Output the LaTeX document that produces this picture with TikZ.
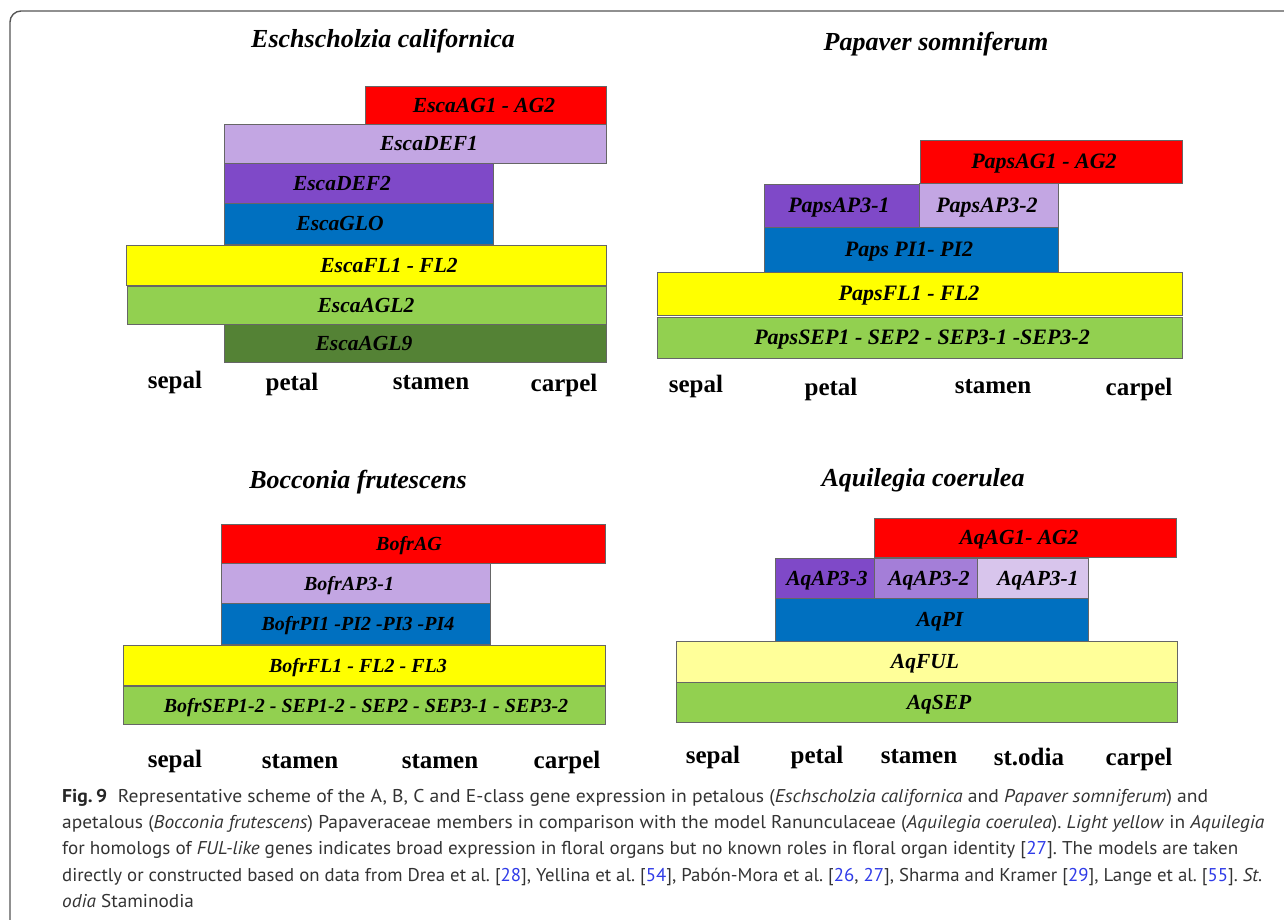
\documentclass[tikz,border=0pt]{standalone}
\usepackage{fontspec}
\usepackage{graphicx}
\setmainfont{Liberation Serif}
\newfontfamily\capfont{PT Sans}
\definecolor{gred}{HTML}{FF0000}
\definecolor{glav}{HTML}{C3A6E3}
\definecolor{gpur}{HTML}{7F49C8}
\definecolor{gmedpur}{HTML}{A47ED8}
\definecolor{glightpur}{HTML}{D8C5EC}
\definecolor{gblue}{HTML}{0070C0}
\definecolor{gyel}{HTML}{FFFF00}
\definecolor{glyel}{HTML}{FFFF99}
\definecolor{ggreen}{HTML}{92D050}
\definecolor{gdkgreen}{HTML}{548235}
\definecolor{capgray}{HTML}{333333}
\definecolor{citeblue}{HTML}{2F3BE8}
\definecolor{framegray}{HTML}{555555}
\def\labsize{21}
\newcommand\genebox[8]{%
  \node[gbox, fill=#6, minimum width={(#4)-(#2)}, minimum height={(#5)-(#3)}] (#1) at ({((#2)+(#4))/2},{((#3)+(#5))/2}) {};
  \node[glabel] (#1t) at (#7,{((#3)+(#5))/2+7}) {#8};}
\newcommand\cit[1]{\textcolor{citeblue}{#1}}
\newcommand\capfit[2]{\resizebox{#1pt}{\height}{#2}}
\frenchspacing
\begin{document}
\begin{tikzpicture}[x=1pt,y=-1pt,
  gbox/.style={draw=black!60, line width=0.8pt, inner sep=0pt, outer sep=0pt},
  glabel/.style={font=\fontsize{\labsize}{22}\selectfont\bfseries\itshape, anchor=base, inner sep=0pt},
  organ/.style={font=\fontsize{25}{28}\selectfont\bfseries, anchor=base, inner sep=0pt},
  ptitle/.style={font=\fontsize{26}{30}\selectfont\bfseries\itshape, anchor=base, inner sep=0pt},
  capline/.style={font=\capfont\fontsize{18.5}{22}\selectfont, anchor=base west, inner sep=0pt, text=capgray}]
\useasboundingbox (0,0) rectangle (1284,919);
% frame
\draw[framegray, line width=1.4pt, rounded corners=11pt] (10,940) -- (10,11) -- (1300,11);
% ---------- Panel 1: Eschscholzia ----------
\def\labsize{21.5}
\node[ptitle] (t1) at (383,47) {Eschscholzia californica};
\genebox{eAG}{365}{86}{606}{124}{gred}{484}{EscaAG1 - AG2}
\genebox{eDEF1}{224}{124}{606}{163}{glav}{429}{EscaDEF1}
\genebox{eDEF2}{224}{163}{493}{203}{gpur}{342}{EscaDEF2}
\genebox{eGLO}{224}{203}{493}{244}{gblue}{340}{EscaGLO}
\genebox{eFL}{126}{245}{606}{285}{gyel}{389}{EscaFL1 - FL2}
\genebox{eAGL2}{127}{286}{606}{324}{ggreen}{366}{EscaAGL2}
\genebox{eAGL9}{224}{324}{606}{362}{gdkgreen}{364}{EscaAGL9}
\node[organ] (o11) at (175,388) {sepal};
\node[organ] (o12) at (292,390) {petal};
\node[organ] (o13) at (431,389) {stamen};
\node[organ] (o14) at (564,391) {carpel};
% ---------- Panel 2: Papaver ----------
\def\labsize{22}
\node[ptitle] (t2) at (936,50) {Papaver somniferum};
\genebox{pAG}{920}{140}{1182}{183}{gred}{1044}{PapsAG1 - AG2}
\genebox{pAP31}{764}{184}{919}{227}{gpur}{839}{PapsAP3-1}
\genebox{pAP32}{919}{183}{1058}{227}{glav}{987}{PapsAP3-2}
\genebox{pPI}{764}{227}{1058}{272}{gblue}{909}{Paps PI1- PI2}
\genebox{pFL}{657}{272}{1182}{315}{gyel}{909}{PapsFL1 - FL2}
\genebox{pSEP}{657}{317}{1182}{358}{ggreen}{922}{PapsSEP1 - SEP2 - SEP3-1 -SEP3-2}
\node[organ] (o21) at (696,392) {sepal};
\node[organ] (o22) at (831,395) {petal};
\node[organ] (o23) at (993,393) {stamen};
\node[organ] (o24) at (1139,395) {carpel};
% ---------- Panel 3: Bocconia ----------
\def\labsize{20}
\node[ptitle] (t3) at (358,488) {Bocconia frutescens};
\genebox{bAG}{221}{524}{605}{563}{gred}{409}{BofrAG}
\genebox{bAP}{221}{563}{490}{603}{glav}{349}{BofrAP3-1}
\genebox{bPI}{221}{603}{490}{644}{gblue}{358}{BofrPI1 -PI2 -PI3 -PI4}
\genebox{bFL}{123}{645}{605}{685}{gyel}{358}{BofrFL1 - FL2 - FL3}
\genebox{bSEP}{123}{686}{605}{724}{ggreen}{366}{BofrSEP1-2 - SEP1-2 - SEP2 - SEP3-1 - SEP3-2}
\node[organ] (o31) at (175,767) {sepal};
\node[organ] (o32) at (300,768) {stamen};
\node[organ] (o33) at (440,768) {stamen};
\node[organ] (o34) at (567,768) {carpel};
% ---------- Panel 4: Aquilegia ----------
\def\labsize{21.5}
\node[ptitle] (t4) at (923,486) {Aquilegia coerulea};
\genebox{aAG}{874}{518}{1176}{557}{gred}{1019}{AqAG1- AG2}
\genebox{aAP33}{775}{558}{874}{598}{gpur}{827}{AqAP3-3}
\genebox{aAP32}{874}{558}{977}{598}{gmedpur}{929}{AqAP3-2}
\genebox{aAP31}{977}{558}{1088}{598}{glightpur}{1038}{AqAP3-1}
\genebox{aPI}{775}{598}{1088}{641}{gblue}{940}{AqPI}
\genebox{aFUL}{676}{641}{1177}{682}{glyel}{925}{AqFUL}
\genebox{aSEP}{676}{682}{1177}{722}{ggreen}{939}{AqSEP}
\node[organ] (o41) at (713,763) {sepal};
\node[organ] (o42) at (817,763) {petal};
\node[organ] (o43) at (919,763) {stamen};
\node[organ] (o44) at (1029,765) {st.odia};
\node[organ] (o45) at (1139,765) {carpel};
% ---------- Caption ----------
\node[capline] (c1) at (62,802) {\capfit{1146}{{\bfseries\color{black!85}Fig.\,9}\hspace{0.55em}Representative scheme of the A, B, C and E-class gene expression in petalous (\textit{Eschscholzia californica} and \textit{Papaver somniferum}) and}};
\node[capline] (c2) at (62,828) {\capfit{1202}{apetalous (\textit{Bocconia frutescens}) Papaveraceae members in comparison with the model Ranunculaceae (\textit{Aquilegia coerulea}). \textit{Light yellow} in \textit{Aquilegia}}};
\node[capline] (c3) at (62,854.5) {\capfit{1176}{for homologs of \textit{FUL-like} genes indicates broad expression in floral organs but no known roles in floral organ identity [\cit{27}]. The models are taken}};
\node[capline] (c4) at (62,881) {\capfit{1200}{directly or constructed based on data from Drea et al. [\cit{28}], Yellina et al. [\cit{54}], Pabón-Mora et al. [\cit{26}, \cit{27}], Sharma and Kramer [\cit{29}], Lange et al. [\cit{55}]. \textit{St.}}};
\node[capline] (c5) at (62,907) {\scalebox{1.04}[1]{\textit{odia} Staminodia}};
\end{tikzpicture}
\end{document}
